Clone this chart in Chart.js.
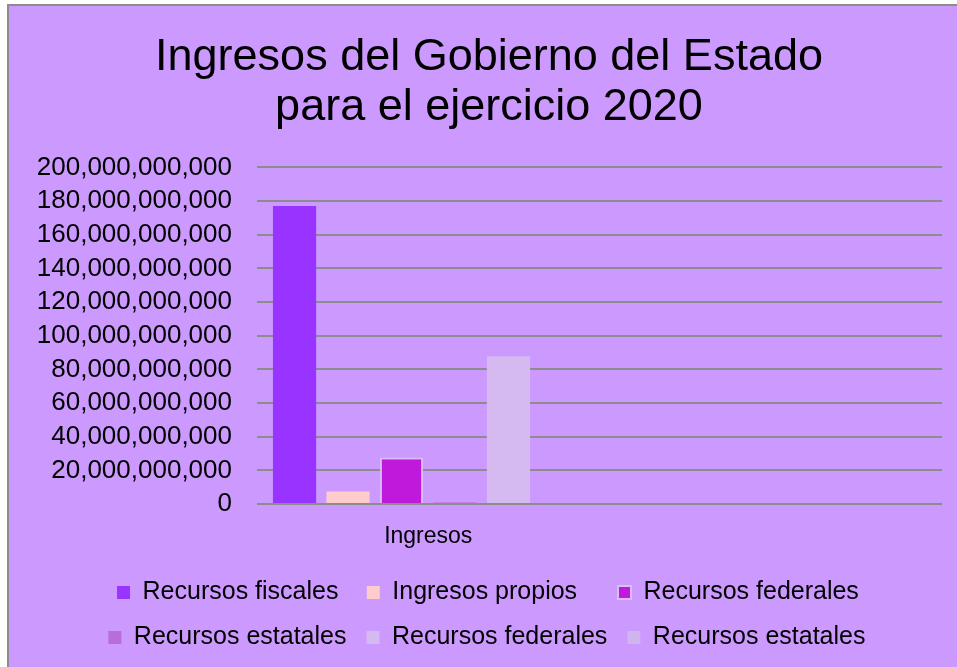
<!DOCTYPE html>
<html>
<head>
<meta charset="utf-8">
<script src="https://cdn.jsdelivr.net/npm/chart.js@4"></script>
<style>
  html, body { margin: 0; padding: 0; background: #fff; overflow: hidden; }
  #wrap {
    position: absolute; left: 7px; top: 4px;
    width: 950px; height: 663px;
    background: #CC99FF;
    border-left: 2px solid #8c8c8c;
    border-top: 2px solid #8c8c8c;
  }
</style>
</head>
<body>
<div id="wrap"><canvas id="chart"></canvas></div>
<script>
const categories = ["Ingresos", ""];
const seriesNames = [
    "Recursos fiscales",
    "Ingresos propios",
    "Recursos federales",
    "Recursos estatales",
    "Recursos federales",
    "Recursos estatales",
];
// one value per series, only the first category has data
const seriesValues = [177.1e9, 7.4e9, 27.7e9, 0.9e9, 87.8e9, 0];
const seriesColors = ["#9933FF", "#FFCCCC", "#BF19DB", "#B86DD8", "#D4BAF0", "#CFB4EE"];
const yTicks = { min: 0, max: 200e9, step: 20e9 };
const titleLines = ["Ingresos del Gobierno del Estado", "para el ejercicio 2020"];

const FONT = "'Liberation Sans', Arial, sans-serif";
const LEGEND_SIZE = 25;
Chart.defaults.color = "#000";
Chart.defaults.font.family = FONT;

// legend columns are equal width in the original, pad with hair spaces
const measure = document.createElement("canvas").getContext("2d");
measure.font = `${LEGEND_SIZE}px ${FONT}`;
function padLabel(text, width) {
    while (measure.measureText(text).width < width) text += "\u200A";
    return text;
}

const datasets = seriesNames.map((name, i) => ({
    label: name,
    data: [seriesValues[i], null],
    backgroundColor: seriesColors[i],
    borderColor: i === 2 ? "#D9BDF3" : seriesColors[i],
    borderWidth: i === 2 ? 2 : 0,
    categoryPercentage: 0.937,
    barPercentage: 0.807,
}));

new Chart(document.getElementById("chart"), {
    type: "bar",
    data: { labels: categories, datasets },
    options: {
        responsive: true,
        maintainAspectRatio: false,
        animation: false,
        layout: { padding: { left: 27, right: 17, top: 0, bottom: 9 } },
        plugins: {
            title: {
                display: true,
                text: titleLines,
                color: "#000",
                font: { size: 45, weight: "normal", lineHeight: 1.11 },
                padding: { top: 27, bottom: 34.5 },
            },
            legend: {
                position: "bottom",
                labels: {
                    boxWidth: 13,
                    boxHeight: 13,
                    padding: 20,
                    font: { size: LEGEND_SIZE },
                    color: "#000",
                    generateLabels: chart =>
                        Chart.defaults.plugins.legend.labels.generateLabels(chart).map((item, i) => {
                            item.text = padLabel(item.text, i % 3 === 2 ? 216 : 204);
                            return item;
                        }),
                },
            },
            tooltip: { enabled: false },
        },
        scales: {
            x: {
                grid: { display: false },
                border: { display: false },
                ticks: { font: { size: 23 }, padding: 10.5 },
                afterFit: s => { s.height = 56; },
            },
            y: {
                min: yTicks.min,
                max: yTicks.max,
                ticks: {
                    stepSize: yTicks.step,
                    autoSkip: false,
                    font: { size: 26 },
                    padding: 25,
                    callback: v => v.toLocaleString("en-US"),
                },
                grid: { color: "#8c8c8c", lineWidth: 2, drawTicks: false },
                border: { display: false },
                afterFit: s => { s.width = 221; },
            },
        },
    },
});
</script>
</body>
</html>
